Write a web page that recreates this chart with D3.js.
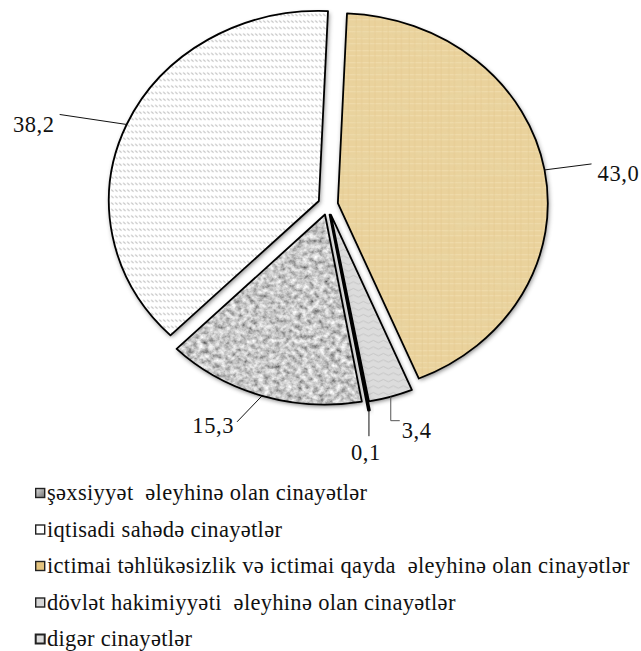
<!DOCTYPE html>
<html><head><meta charset="utf-8">
<script src="https://cdn.jsdelivr.net/npm/d3@7"></script>
</head><body style="margin:0">
<script>
// ---- data ----
const categories = ["ictimai", "dovlet", "diger", "sexsiyyet", "iqtisadi"];
const values = [43.0, 3.4, 0.1, 15.3, 38.2];
const valueLabels = ["43,0", "3,4", "0,1", "15,3", "38,2"];
const legendKeys = ["sexsiyyet", "iqtisadi", "ictimai", "dovlet", "diger"];
const legendLabels = [
  "şəxsiyyət\u00A0 əleyhinə olan cinayətlər",
  "iqtisadi sahədə cinayətlər",
  "ictimai təhlükəsizlik və ictimai qayda\u00A0 əleyhinə olan cinayətlər",
  "dövlət hakimiyyəti\u00A0 əleyhinə olan cinayətlər",
  "digər cinayətlər"
];

// ---- layout / style ----
const W = 641, H = 651;
const FONT = "Liberation Serif";
const C = {x: 328, y: 205};
const R = 190, SX = 1.105, EXPLODE = 10;
const startDeg = 2.5;
const fills = {ictimai: "url(#pTan)", dovlet: "url(#pWave)", diger: "#3a3a3a", sexsiyyet: "#999", iqtisadi: "url(#pHatch)"};
const labelGeom = {
  ictimai:  {pts: [[47, -6]], text: [53, 11], anchor: "start"},
  dovlet:   {pts: [[0, 24], [9, 24]], text: [11, 41], anchor: "start"},
  diger:    {pts: [[0, 26]], text: [-3, 50], anchor: "middle"},
  sexsiyyet:{pts: [[-25, 26]], text: [-28, 37], anchor: "end"},
  iqtisadi: {pts: [[-67, -10]], text: [-72, 8], anchor: "end"}
};

const svg = d3.select("body").append("svg").attr("width", W).attr("height", H).style("display", "block");
const defs = svg.append("defs");

const hatch = defs.append("pattern").attr("id", "pHatch").attr("patternUnits", "userSpaceOnUse")
  .attr("width", 4).attr("height", 6.5).attr("patternTransform", `scale(${1/SX},1)`);
hatch.append("rect").attr("width", 4).attr("height", 6.5).attr("fill", "#fff");
hatch.append("line").attr("x1", 0.3).attr("y1", 1.5).attr("x2", 2.6).attr("y2", 3.6).attr("stroke", "#b4b4b4").attr("stroke-width", 1);

const wave = defs.append("pattern").attr("id", "pWave").attr("patternUnits", "userSpaceOnUse")
  .attr("width", 10).attr("height", 6.5).attr("patternTransform", `scale(${1/SX},1)`);
wave.append("rect").attr("width", 10).attr("height", 6.5).attr("fill", "#dcdcdc");
wave.append("path").attr("d", "M0,3.5 Q2.5,1 5,3.5 T10,3.5").attr("fill", "none").attr("stroke", "#c2c2c2").attr("stroke-width", 0.9);

const tan = defs.append("pattern").attr("id", "pTan").attr("patternUnits", "userSpaceOnUse")
  .attr("width", 12).attr("height", 12);
tan.append("rect").attr("width", 12).attr("height", 12).attr("fill", "#ead29c");
tan.append("path").attr("d", "M0,3.5H12M0,8.5H12").attr("stroke", "#f1ddb0").attr("stroke-width", 0.8);
tan.append("path").attr("d", "M4.5,0V12M9.5,0V12").attr("stroke", "#e2c78c").attr("stroke-width", 0.6);

const fG = defs.append("filter").attr("id", "granite").attr("x", 0).attr("y", 0).attr("width", 1).attr("height", 1);
fG.append("feTurbulence").attr("type", "fractalNoise").attr("baseFrequency", 0.2).attr("numOctaves", 3).attr("seed", 7).attr("result", "n");
fG.append("feColorMatrix").attr("in", "n").attr("type", "matrix")
  .attr("values", "1.2 0 0 0 -0.02  1.2 0 0 0 -0.02  1.2 0 0 0 -0.02  0 0 0 0 1").attr("result", "g");
fG.append("feComposite").attr("in", "g").attr("in2", "SourceAlpha").attr("operator", "in");

const fT = defs.append("filter").attr("id", "paper").attr("x", 0).attr("y", 0).attr("width", 1).attr("height", 1);
fT.append("feTurbulence").attr("type", "fractalNoise").attr("baseFrequency", "0.03 0.08").attr("numOctaves", 3).attr("seed", 4).attr("result", "n");
fT.append("feColorMatrix").attr("in", "n").attr("type", "matrix")
  .attr("values", "0 0 0 0 0.80  0 0 0 0 0.68  0 0 0 0 0.38  2.2 0 0 0 -1.05").attr("result", "c");
fT.append("feComposite").attr("in", "c").attr("in2", "SourceAlpha").attr("operator", "in");

const fS = defs.append("filter").attr("id", "shadow").attr("x", -0.1).attr("y", -0.1).attr("width", 1.2).attr("height", 1.2);
fS.append("feGaussianBlur").attr("in", "SourceAlpha").attr("stdDeviation", 2.2);
fS.append("feOffset").attr("dx", 1.2).attr("dy", 1.8).attr("result", "b");
fS.append("feFlood").attr("flood-color", "#000").attr("flood-opacity", 0.5);
fS.append("feComposite").attr("in2", "b").attr("operator", "in");

const data = categories.map((k, i) => ({key: k, value: values[i], label: valueLabels[i]}));
const pie = d3.pie().sort(null).value(d => d.value)
  .startAngle(startDeg * Math.PI / 180).endAngle((360 + startDeg) * Math.PI / 180);
const arcs = pie(data);
const outerR = d => d.data.key === "diger" ? R * 1.045 : R;
const arc = d3.arc().innerRadius(0).outerRadius(outerR);

function origin(d) {
  const m = (d.startAngle + d.endAngle) / 2;
  return [C.x + EXPLODE * Math.sin(m), C.y - EXPLODE * Math.cos(m)];
}
function arcPoint(d, a) {
  const o = origin(d), r = outerR(d);
  return [o[0] + SX * r * Math.sin(a), o[1] - r * Math.cos(a)];
}

const g = svg.append("g");
const slices = g.selectAll("g.slice").data(arcs).join("g").attr("class", "slice")
  .attr("transform", d => `translate(${origin(d)}) scale(${SX},1)`);

slices.append("path").attr("d", arc).attr("fill", "#000").attr("filter", "url(#shadow)");
slices.append("path").attr("d", arc).attr("fill", d => fills[d.data.key]);
slices.filter(d => d.data.key === "sexsiyyet").append("path").attr("d", arc).attr("fill", "#999").attr("filter", "url(#granite)");
slices.filter(d => d.data.key === "ictimai").append("path").attr("d", arc).attr("fill", "#ead29c").attr("filter", "url(#paper)").attr("opacity", 0.5);
slices.append("path").attr("d", arc).attr("fill", "none").attr("stroke", "#000")
  .attr("stroke-width", d => d.data.key === "diger" ? 2.2 : 1.8)
  .attr("stroke-linejoin", "round").attr("vector-effect", "non-scaling-stroke");

// value labels with leader lines
const labels = svg.append("g");
arcs.forEach(d => {
  const k = d.data.key, lg = labelGeom[k];
  const m = (d.startAngle + d.endAngle) / 2;
  const p = arcPoint(d, m);
  const pts = [p].concat(lg.pts.map(q => [p[0] + q[0], p[1] + q[1]]));
  labels.append("path").attr("d", d3.line()(pts)).attr("fill", "none")
    .attr("stroke", k === "dovlet" ? "#555" : "#111").attr("stroke-width", 1);
  labels.append("text").attr("x", p[0] + lg.text[0]).attr("y", p[1] + lg.text[1])
    .attr("text-anchor", lg.anchor).attr("font-size", 22.5).style("font-family", FONT)
    .style("letter-spacing", "0.6px").attr("fill", "#111")
    .text(d.data.label);
});

// legend
const legFill = {sexsiyyet: "url(#gSex)", iqtisadi: "#fff", ictimai: "#e4c47f", dovlet: "#d6d6d6", diger: "#dcdcdc"};
const gs = defs.append("linearGradient").attr("id", "gSex").attr("x1", 0).attr("y1", 0).attr("x2", 1).attr("y2", 1);
gs.append("stop").attr("offset", 0).attr("stop-color", "#e0e0e0");
gs.append("stop").attr("offset", 1).attr("stop-color", "#6e6e6e");
const ly = d3.scalePoint().domain(legendKeys).range([493, 639]);
const legend = svg.append("g");
legend.selectAll("rect").data(legendKeys).join("rect")
  .attr("x", 35.7).attr("y", k => ly(k) - 4.5).attr("width", 9).attr("height", 9)
  .attr("fill", k => legFill[k]).attr("stroke", "#222").attr("stroke-width", k => k === "diger" ? 2 : 1.4);
legend.selectAll("text").data(legendKeys).join("text")
  .attr("x", 47).attr("y", k => ly(k) + 7).attr("font-size", 22.5)
  .style("font-family", FONT).style("letter-spacing", "0.3px").attr("fill", "#111")
  .text((k, i) => legendLabels[i]);
</script>
</body></html>
